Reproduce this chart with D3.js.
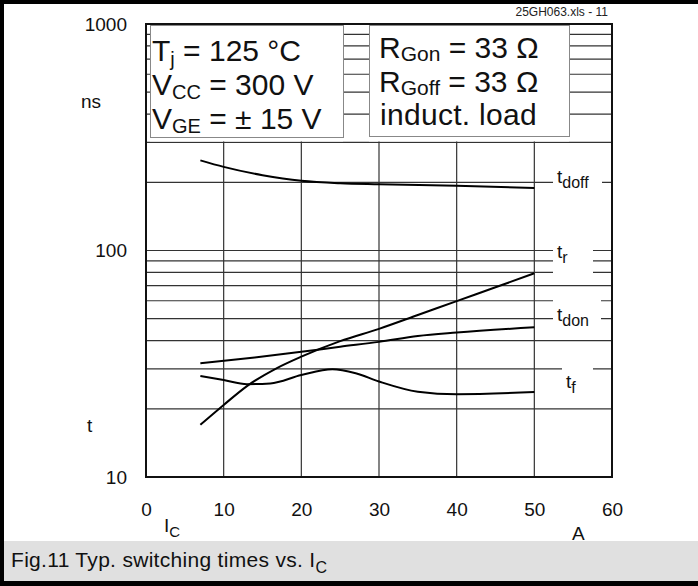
<!DOCTYPE html>
<html><head><meta charset="utf-8">
<script src="https://cdn.jsdelivr.net/npm/d3@7"></script>
<style>body{margin:0;background:#fff}svg{display:block;font-family:"Liberation Sans",Arial,sans-serif}</style>
</head><body>
<script>
// ---- data ----
const xTicks = [0, 10, 20, 30, 40, 50, 60];
const yTicks = [10, 100, 1000];
const tdoffX = [7, 10, 15, 20, 25, 30, 40, 50];
const tdoffY = [250, 234, 215, 203, 198, 196, 193, 189];
const trX = [7, 10, 13, 16.8, 20, 25, 30, 35, 40, 45, 50];
const trY = [17, 20.8, 25.2, 30.2, 34, 39.8, 45.1, 51.9, 59.8, 68.8, 79.3];
const tdonX = [7, 14, 20, 25, 30, 35, 40, 50];
const tdonY = [31.8, 33.7, 35.7, 37.6, 39.5, 41.9, 43.4, 45.8];
const tfX = [7, 10, 13, 16, 20, 24, 27, 30, 35, 40, 50];
const tfY = [27.9, 26.8, 25.7, 25.9, 28.2, 29.9, 28.7, 26.4, 23.8, 23.2, 23.7];
const seriesNames = ["doff", "r", "don", "f"];

// layout (label placement and grid gaps)
const labelPos = [[557, 183], [557, 258], [557, 321], [566, 388]];
const gapBox = [[553, 602, 165, 197], [553, 593, 244, 277], [553, 601, 292, 330], [562, 593, 360, 398]];

const W = 698, H = 586;
const svg = d3.select("body").append("svg").attr("width", W).attr("height", H);
const x = d3.scaleLinear().domain([0, 60]).range([146, 612]);
const y = d3.scaleLog().domain([10, 1000]).range([477, 24]);

function richText(parent, xx, yy, parts, size, subSize, subDy) {
  const t = parent.append("text").attr("x", xx).attr("y", yy).attr("font-size", size).attr("fill", "#111");
  const sd = subDy != null ? subDy : size * 0.28;
  parts.forEach(p => {
    if (p.sub) t.append("tspan").attr("font-size", subSize).attr("dy", sd).text(p.sub);
    else t.append("tspan").attr("dy", p.after ? -sd : 0).text(p.t);
  });
  return t;
}

// caption band
svg.append("rect").attr("x", 0).attr("y", 541).attr("width", W).attr("height", 40).attr("fill", "#e0e0e0");
richText(svg, 11, 567, [{t: "Fig.11 Typ. switching times vs. I"}, {sub: "C"}], 21, 16, 6)
  .attr("letter-spacing", 0.3);

// grid
const hGrid = [];
[10, 100].forEach(d => { for (let k = 2; k <= 9; k++) hGrid.push(d * k); });
hGrid.push(100);
const g = svg.append("g");
g.selectAll("line.h").data(hGrid).join("line")
  .attr("x1", x(0)).attr("x2", x(60)).attr("y1", d => y(d)).attr("y2", d => y(d))
  .attr("stroke", "#333").attr("stroke-width", 1.2);
g.selectAll("line.v").data([10, 20, 30, 40, 50]).join("line")
  .attr("y1", y(10)).attr("y2", y(1000)).attr("x1", d => x(d)).attr("x2", d => x(d))
  .attr("stroke", "#333").attr("stroke-width", 1.2);

// gaps in grid behind curve labels
svg.append("g").selectAll("rect").data(gapBox).join("rect")
  .attr("x", d => d[0]).attr("width", d => d[1] - d[0]).attr("y", d => d[2]).attr("height", d => d[3] - d[2]).attr("fill", "#fff");

// legend boxes
const boxes = svg.append("g");
boxes.append("rect").attr("x", 150).attr("y", 25).attr("width", 193).attr("height", y(300) - 25 - 1).attr("fill", "#fff");
boxes.append("rect").attr("x", 369).attr("y", 25).attr("width", 200).attr("height", y(300) - 25 - 1).attr("fill", "#fff");
boxes.append("rect").attr("x", 150.5).attr("y", 25.5).attr("width", 193).attr("height", 112).attr("fill", "none").attr("stroke", "#888");
boxes.append("rect").attr("x", 369.5).attr("y", 25.5).attr("width", 200).attr("height", 111).attr("fill", "none").attr("stroke", "#888");

richText(boxes, 152, 61, [{t: "T"}, {sub: "j"}, {t: " = 125 °C", after: true}], 30, 20, 5);
richText(boxes, 152, 95, [{t: "V"}, {sub: "CC"}, {t: " = 300 V", after: true}], 30, 20, 4);
richText(boxes, 152, 129, [{t: "V"}, {sub: "GE"}, {t: " = ± 15 V", after: true}], 30, 20, 4);
richText(boxes, 379, 58, [{t: "R"}, {sub: "Gon"}, {t: " = 33 Ω", after: true}], 30, 21, 3);
richText(boxes, 379, 92, [{t: "R"}, {sub: "Goff"}, {t: " = 33 Ω", after: true}], 30, 21, 3);
richText(boxes, 380, 125, [{t: "induct. load"}], 30, 21).attr("letter-spacing", 0.3);

// curve labels
const lab = svg.append("g");
seriesNames.forEach((n, i) => {
  richText(lab, labelPos[i][0], labelPos[i][1], [{t: "t"}, {sub: n}], 19, 16, 5);
});

// curves
const line = d3.line().x(d => x(d[0])).y(d => y(d[1])).curve(d3.curveMonotoneX);
const series = [[tdoffX, tdoffY], [trX, trY], [tdonX, tdonY], [tfX, tfY]];
svg.append("g").selectAll("path").data(series).join("path")
  .attr("d", s => line(s[0].map((v, i) => [v, s[1][i]])))
  .attr("fill", "none").attr("stroke", "#000").attr("stroke-width", 2);

// frame
svg.append("rect").attr("x", x(0)).attr("y", y(1000)).attr("width", x(60) - x(0)).attr("height", y(10) - y(1000))
  .attr("fill", "none").attr("stroke", "#111").attr("stroke-width", 2);

// axes
const xa = svg.append("g").attr("transform", `translate(0,${y(10)})`)
  .call(d3.axisBottom(x).tickValues(xTicks).tickSize(0).tickPadding(26));
xa.select(".domain").remove();
xa.selectAll("text").attr("font-size", 19).attr("fill", "#111").attr("font-family", "Liberation Sans, Arial, sans-serif");
const ya = svg.append("g").attr("transform", `translate(${x(0)},0)`)
  .call(d3.axisLeft(y).tickValues(yTicks).tickFormat(d3.format("d")).tickSize(0).tickPadding(19));
ya.select(".domain").remove();
ya.selectAll("text").attr("font-size", 19).attr("fill", "#111").attr("font-family", "Liberation Sans, Arial, sans-serif");

// axis titles
svg.append("text").attr("x", 81).attr("y", 108).attr("font-size", 19).attr("fill", "#111").text("ns");
svg.append("text").attr("x", 87).attr("y", 432).attr("font-size", 19).attr("fill", "#111").text("t");
richText(svg, 164, 532, [{t: "I"}, {sub: "C"}], 19, 15, 5);
svg.append("text").attr("x", 572).attr("y", 540).attr("font-size", 19).attr("fill", "#111").text("A");
svg.append("text").attr("x", 608).attr("y", 16).attr("text-anchor", "end").attr("font-size", 12).attr("fill", "#222").text("25GH063.xls - 11");

// outer border (top, left, bottom)
svg.append("rect").attr("x", 0).attr("y", 0).attr("width", W).attr("height", 4).attr("fill", "#000");
svg.append("rect").attr("x", 0).attr("y", 0).attr("width", 4).attr("height", H).attr("fill", "#000");
svg.append("rect").attr("x", 0).attr("y", 581).attr("width", W).attr("height", 5).attr("fill", "#000");
</script>
</body></html>
